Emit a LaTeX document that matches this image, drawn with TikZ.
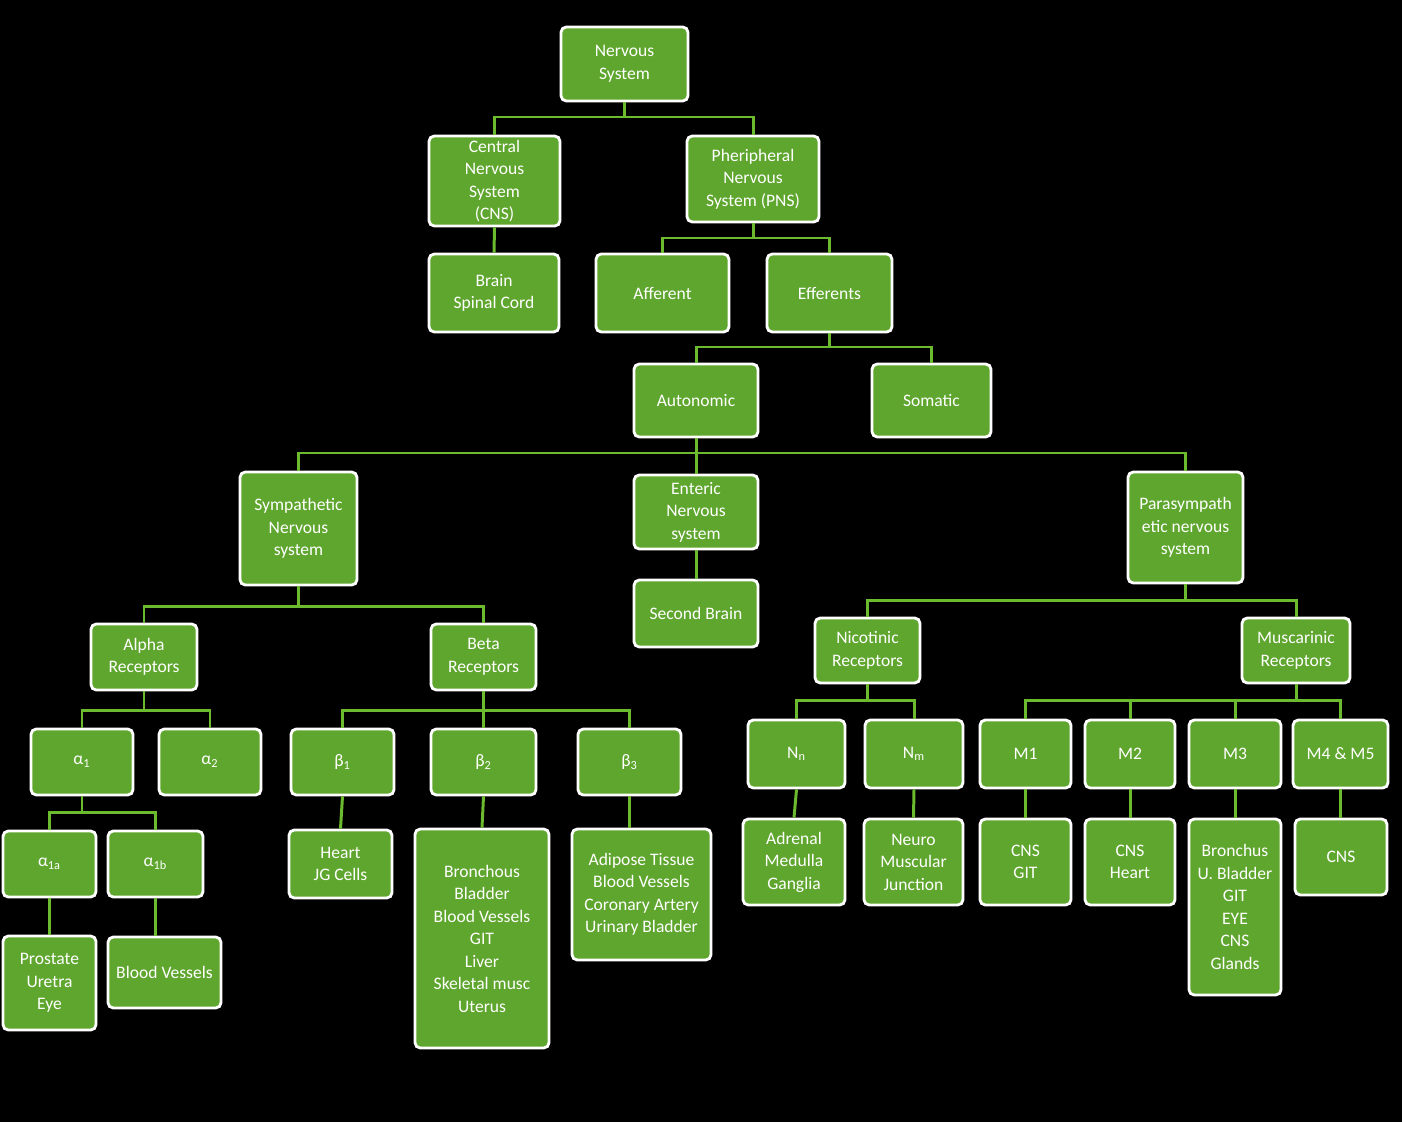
\documentclass[tikz,border=0pt]{standalone}
\usepackage{fontspec}
\setmainfont{Carlito}
\begin{document}
\begin{tikzpicture}[x=0.02cm,y=-0.02cm,
 box/.style={draw=white,line width=1.6pt,rounded corners=3pt,fill=gbox,text=white,align=center,inner sep=0pt,font=\fontsize{10}{12.8}\selectfont},
 conn/.style={draw=gline,line width=1.7pt}]
\definecolor{gbox}{HTML}{5FA62E}
\definecolor{gline}{HTML}{6CBB2F}
\fill[black] (0,0) rectangle (1402,1122);
\newcommand\bx[6]{\node[box,minimum width={(#4-#2)*0.02cm},minimum height={(#5-#3)*0.02cm}] (#1) at ({(#2+#4)/2},{(#3+#5)/2}) {#6};}
\newcommand\tree[3]{\foreach \c in {#3}{\draw[conn] (#1.south) -- (#1.south |- 0,#2) -| (\c.north);}}
\newcommand\dn[2]{\draw[conn] (#1.south) -- (#2.north);}
\bx{ns}{561}{27}{688}{101}{Nervous\\System}
\bx{cns}{429}{136}{560}{226}{Central\\Nervous\\System\\(CNS)}
\bx{pns}{687}{136}{819}{222}{Pheripheral\\Nervous\\System (PNS)}
\bx{brain}{429}{254}{559}{332}{Brain\\Spinal Cord}
\bx{aff}{596}{254}{729}{332}{Afferent}
\bx{eff}{767}{254}{892}{332}{Efferents}
\bx{auto}{634}{364}{758}{437}{Autonomic}
\bx{som}{872}{364}{991}{437}{Somatic}
\bx{symp}{240}{472}{357}{585}{Sympathetic\\Nervous\\system}
\bx{ent}{634}{475}{758}{549}{Enteric\\Nervous\\system}
\bx{para}{1128}{472}{1243}{583}{Parasympath\\etic nervous\\system}
\bx{second}{634}{580}{758}{647}{Second Brain}
\bx{alpha}{91}{624}{197}{690}{Alpha\\Receptors}
\bx{beta}{431}{624}{536}{690}{Beta\\Receptors}
\bx{nic}{815}{618}{920}{683}{Nicotinic\\Receptors}
\bx{mus}{1242}{618}{1350}{683}{Muscarinic\\Receptors}
\bx{a1}{31}{729}{133}{795}{α\textsubscript{1}}
\bx{a2}{159}{729}{261}{795}{α\textsubscript{2}}
\bx{b1}{291}{729}{394}{795}{β\textsubscript{1}}
\bx{b2}{431}{729}{536}{795}{β\textsubscript{2}}
\bx{b3}{578}{729}{681}{795}{β\textsubscript{3}}
\bx{nn}{748}{720}{845}{788}{N\textsubscript{n}}
\bx{nm}{865}{720}{963}{788}{N\textsubscript{m}}
\bx{m1}{980}{720}{1071}{788}{M1}
\bx{m2}{1085}{720}{1175}{788}{M2}
\bx{m3}{1189}{720}{1281}{788}{M3}
\bx{m45}{1293}{720}{1388}{788}{M4 \& M5}
\bx{a1a}{3}{831}{96}{897}{α\textsubscript{1a}}
\bx{a1b}{108}{831}{203}{897}{α\textsubscript{1b}}
\bx{heart}{289}{830}{392}{898}{Heart\\JG Cells}
\bx{b2l}{415}{829}{549}{1048}{\fontsize{10}{16.6}\selectfont Bronchous\\Bladder\\Blood Vessels\\GIT\\Liver\\Skeletal musc\\Uterus}
\bx{b3l}{572}{829}{711}{960}{\fontsize{10}{15.4}\selectfont Adipose Tissue\\Blood Vessels\\Coronary Artery\\Urinary Bladder}
\bx{adr}{743}{819}{845}{905}{Adrenal\\Medulla\\Ganglia}
\bx{neuro}{864}{819}{963}{905}{Neuro\\Muscular\\Junction}
\bx{cnsgit}{980}{819}{1071}{905}{CNS\\GIT}
\bx{cnsheart}{1085}{819}{1175}{905}{CNS\\Heart}
\bx{m3l}{1189}{819}{1281}{995}{\fontsize{10}{15.2}\selectfont Bronchus\\U. Bladder\\GIT\\EYE\\CNS\\Glands}
\bx{cnsm}{1295}{819}{1387}{895}{CNS}
\bx{pros}{3}{936}{96}{1030}{\fontsize{10}{16}\selectfont Prostate\\Uretra\\Eye}
\bx{bv}{108}{937}{221}{1008}{Blood Vessels}
\tree{ns}{117}{cns,pns}
\tree{pns}{238}{aff,eff}
\tree{eff}{347}{auto,som}
\tree{auto}{453}{symp,ent,para}
\tree{symp}{606}{alpha,beta}
\tree{para}{600}{nic,mus}
\tree{alpha}{710}{a1,a2}
\tree{beta}{710}{b1,b2,b3}
\tree{nic}{700}{nn,nm}
\tree{mus}{700}{m1,m2,m3,m45}
\tree{a1}{812}{a1a,a1b}
\dn{cns}{brain}\dn{ent}{second}\dn{b1}{heart}\dn{b2}{b2l}
\draw[conn] (b3.south) -- (b3.south |- b3l.north);
\dn{nn}{adr}\dn{nm}{neuro}\dn{m1}{cnsgit}\dn{m2}{cnsheart}\dn{m3}{m3l}
\draw[conn] (m45.south) -- (m45.south |- cnsm.north);
\dn{a1a}{pros}
\draw[conn] (a1b.south) -- (a1b.south |- bv.north);
\end{tikzpicture}
\end{document}
